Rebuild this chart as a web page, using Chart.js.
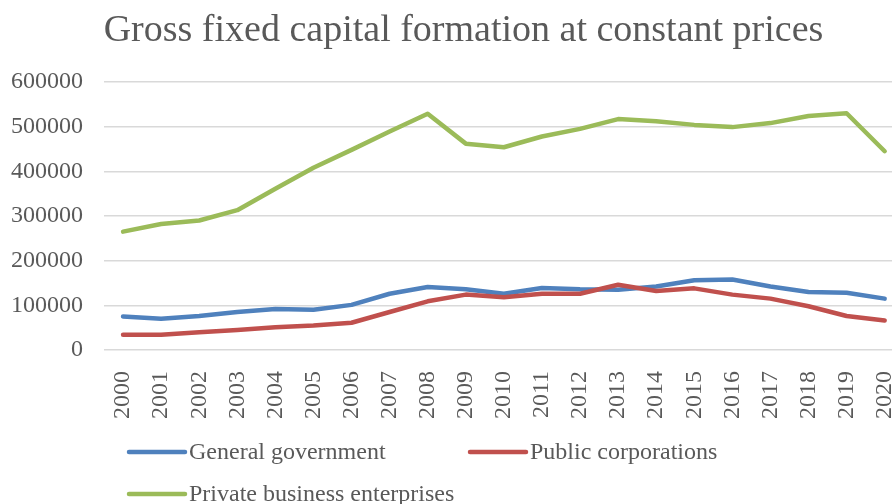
<!DOCTYPE html>
<html>
<head>
<meta charset="utf-8">
<script src="https://cdn.jsdelivr.net/npm/chart.js@4"></script>
<style>
  html, body { margin: 0; padding: 0; background: #fff; overflow: hidden; }
  #wrap { width: 927px; height: 504px; position: relative; }
</style>
</head>
<body>
<div id="wrap"><canvas id="myChart"></canvas></div>
<script>
  // data
  const years = ['2000','2001','2002','2003','2004','2005','2006','2007','2008','2009','2010',
                 '2011','2012','2013','2014','2015','2016','2017','2018','2019','2020'];
  const generalGovernment = [75000, 70000, 76000, 85000, 92000, 90000, 101000, 126000, 141000, 136000, 126000,
                             139000, 136000, 135000, 142000, 156000, 158000, 142000, 130000, 128000, 115000];
  const publicCorporations = [34000, 34000, 40000, 45000, 51000, 55000, 61000, 85000, 109000, 124000, 118000,
                              126000, 126000, 146000, 132000, 138000, 124000, 115000, 98000, 76000, 66000];
  const privateBusiness = [265000, 282000, 290000, 313000, 361000, 408000, 448000, 489000, 529000, 462000, 454000,
                           478000, 495000, 517000, 512000, 504000, 499000, 508000, 524000, 530000, 445000];
  const seriesNames = ['General government', 'Public corporations', 'Private business enterprises'];
  const colors = ['#4F81BD', '#C0504D', '#9BBB59'];
  const chartTitle = 'Gross fixed capital formation at constant prices';

  const textColor = '#595959';
  const serif = '"Liberation Serif", "Times New Roman", serif';

  // Excel-like title and legend (legend: two columns, wraps to a second row)
  const sheetDecor = {
    id: 'sheetDecor',
    afterDraw(chart) {
      const ctx = chart.ctx;
      ctx.save();
      ctx.fillStyle = textColor;
      ctx.font = '38px ' + serif;
      ctx.textAlign = 'center';
      ctx.textBaseline = 'alphabetic';
      ctx.fillText(chartTitle, 463.5, 41);

      const spots = [[129, 452], [470, 452], [129, 494]];
      ctx.font = '24px ' + serif;
      ctx.textAlign = 'left';
      ctx.textBaseline = 'middle';
      chart.data.datasets.forEach((ds, i) => {
        const [x, y] = spots[i];
        ctx.strokeStyle = ds.borderColor;
        ctx.lineWidth = 4.5;
        ctx.lineCap = 'round';
        ctx.beginPath();
        ctx.moveTo(x, y);
        ctx.lineTo(x + 56, y);
        ctx.stroke();
        ctx.fillText(ds.label, x + 60, y + 1);
      });
      ctx.restore();
    }
  };

  const datasets = [generalGovernment, publicCorporations, privateBusiness].map((vals, i) => ({
    label: seriesNames[i],
    data: vals,
    borderColor: colors[i],
    backgroundColor: colors[i],
    borderWidth: 4.5,
    borderCapStyle: 'round',
    borderJoinStyle: 'round',
    pointRadius: 0,
    tension: 0,
    order: 3 - i
  }));

  var canvas = document.getElementById('myChart');
  var chart = new Chart(canvas, {
    type: 'line',
    data: { labels: years, datasets: datasets },
    options: {
      responsive: true,
      maintainAspectRatio: false,
      animation: false,
      layout: { padding: { left: 0, right: 22, top: 82, bottom: 0 } },
      plugins: {
        legend: { display: false },
        tooltip: { enabled: false },
        title: { display: false }
      },
      scales: {
        x: {
          offset: true,
          grid: { display: false },
          border: { display: false },
          ticks: {
            color: textColor,
            font: { family: serif, size: 24 },
            minRotation: 90,
            maxRotation: 90,
            padding: 13,
            autoSkip: false
          },
          afterFit: (scale) => { scale.height = 154; }
        },
        y: {
          min: 0,
          max: 600000,
          grid: { color: '#D9D9D9', lineWidth: 1.5, drawTicks: false },
          border: { display: false },
          ticks: {
            stepSize: 100000,
            color: textColor,
            font: { family: serif, size: 24 },
            padding: 21,
            callback: (v) => String(v)
          },
          afterFit: (scale) => { scale.width = 104; }
        }
      }
    },
    plugins: [sheetDecor]
  });
</script>
</body>
</html>
